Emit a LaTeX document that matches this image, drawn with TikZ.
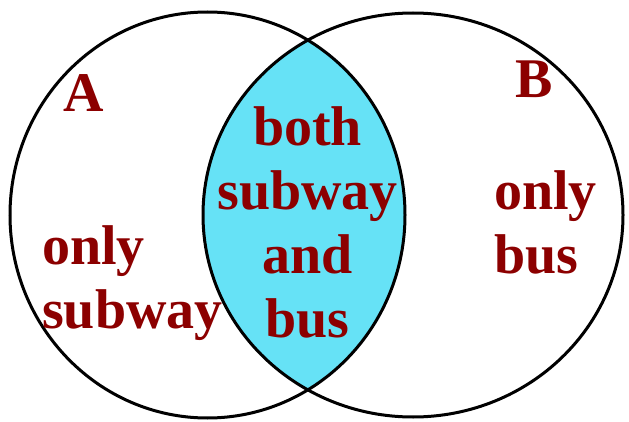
\documentclass[tikz,border=0pt]{standalone}
\usepackage{fontspec}
\setmainfont{Liberation Serif}
\usepackage{xcolor}
\definecolor{labelred}{RGB}{140,0,0}
\definecolor{lenscyan}{RGB}{102,226,246}

\begin{document}
\begin{tikzpicture}[
  x=1pt, y=1pt,
  setring/.style={
    draw=black, line width=3pt
  },
  txt/.style={
    text=labelred, font=\bfseries\fontsize{56}{64}\selectfont,
    inner sep=0pt, align=#1
  }
]
\useasboundingbox (0,0) rectangle (629,421);

% Centres of the two sets
\coordinate (ca) at (207.5,206);
\coordinate (cb) at (413,206);

% Shared region
\begin{scope}
  \clip (ca) ellipse [x radius=197.5pt, y radius=203pt];
  \fill[lenscyan] (cb) ellipse [x radius=210pt, y radius=202pt];
\end{scope}

% Set outlines
\draw[setring] (ca) ellipse [x radius=197.5pt, y radius=203pt];
\draw[setring] (cb) ellipse [x radius=210pt, y radius=202pt];

% Set names
\node[txt=center, anchor=base] (seta) at (84,309) {A};
\node[txt=center, anchor=base] (setb) at (534,323) {B};

% Region labels (base = last line)
\node[txt=center, anchor=base] (both)  at (307.5,84) {both\\subway\\and\\bus};
\node[txt=left,   anchor=base west] (onlya) at (42,93)  {only\\subway};
\node[txt=left,   anchor=base west] (onlyb) at (494,148) {only\\bus};

\end{tikzpicture}
\end{document}
